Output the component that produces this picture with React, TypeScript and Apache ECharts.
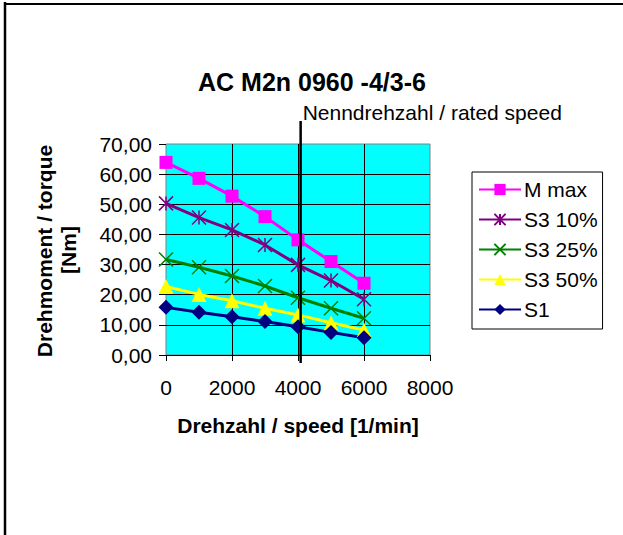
import React, { useEffect, useRef } from "react";
import * as echarts from "echarts";

const speeds = [0, 1000, 2000, 3000, 4000, 5000, 6000];
const mMax = [63.9, 58.6, 52.7, 45.9, 38.2, 31.0, 23.8];
const s3_10 = [50.3, 45.6, 41.5, 36.5, 29.9, 24.7, 18.5];
const s3_25 = [31.7, 29.1, 26.2, 22.9, 19.0, 15.5, 12.2];
const s3_50 = [22.7, 20.1, 18.0, 15.5, 13.3, 10.7, 8.3];
const s1 = [15.8, 14.2, 12.7, 11.1, 9.4, 7.5, 5.7];
const seriesNames = ["M max", "S3 10%", "S3 25%", "S3 50%", "S1"];
const ratedSpeed = 4080;
const titleText = "AC M2n 0960 -4/3-6";
const ratedLabel = "Nenndrehzahl / rated speed";
const xTitle = "Drehzahl / speed [1/min]";
const yTitle1 = "Drehmoment / torque";
const yTitle2 = "[Nm]";

const FONT = "Liberation Sans, Arial, Helvetica, sans-serif";

const ASTERISK = "path://M5,0L5,10M0,0L10,10M10,0L0,10";
const CROSS = "path://M0,0L10,10M10,0L0,10";

export default function App() {
  const ref = useRef<HTMLDivElement>(null);
  useEffect(() => {
    if (!ref.current) return;
    const chart = echarts.init(ref.current, undefined, { renderer: "svg" });
    const pair = (vals: number[]) => speeds.map((s, i) => [s, vals[i]]);
    const mk = (
      name: string,
      vals: number[],
      color: string,
      symbol: string,
      size: number,
      stroke: boolean
    ) => ({
      name,
      type: "line",
      data: pair(vals),
      symbol,
      symbolSize: size,
      showSymbol: true,
      lineStyle: { color, width: 3 },
      itemStyle: stroke
        ? { color, borderColor: color, borderWidth: 1.5 }
        : { color, borderColor: color, borderWidth: 0 },
      emphasis: { disabled: true },
      z: 3,
    });
    const labelStyle = { fontFamily: FONT, fill: "#000" };
    chart.setOption({
      animation: false,
      grid: {
        left: 166,
        top: 144,
        width: 264,
        height: 211,
        show: true,
        backgroundColor: "#00FFFF",
        borderColor: "#808080",
        borderWidth: 1,
      },
      xAxis: {
        type: "value",
        min: 0,
        max: 8000,
        interval: 2000,
        axisLine: { show: true, lineStyle: { color: "#000", width: 1 } },
        axisTick: { show: true, length: 6, lineStyle: { color: "#000" } },
        axisLabel: {
          fontFamily: FONT,
          fontSize: 21,
          color: "#000",
          margin: 22,
          formatter: (v: number) => String(v),
        },
        splitLine: { show: true, showMinLine: false, showMaxLine: false, lineStyle: { color: "#000", width: 1 } },
      },
      yAxis: {
        type: "value",
        min: 0,
        max: 70,
        interval: 10,
        axisLine: { show: false },
        axisTick: { show: true, length: 7, lineStyle: { color: "#000" } },
        axisLabel: {
          fontFamily: FONT,
          fontSize: 21,
          color: "#000",
          margin: 14,
          formatter: (v: number) => v.toFixed(2).replace(".", ","),
        },
        splitLine: { show: true, showMinLine: false, showMaxLine: false, lineStyle: { color: "#000", width: 1 } },
      },
      legend: {
        show: true,
        orient: "vertical",
        left: 472,
        top: 172,
        data: seriesNames,
        itemWidth: 42,
        itemHeight: 14,
        itemGap: 9,
        itemStyle: {},
        padding: [7, 5, 9, 6],
        borderColor: "#000",
        borderWidth: 1,
        backgroundColor: "#fff",
        textStyle: { fontFamily: FONT, fontSize: 21, color: "#000", padding: [0, 0, 0, -2] },
        selectedMode: false,
      },
      series: [
        mk(seriesNames[0], mMax, "#FF00FF", "rect", 13, false),
        mk(seriesNames[1], s3_10, "#800080", ASTERISK, 14, true),
        mk(seriesNames[2], s3_25, "#008000", CROSS, 14, true),
        mk(seriesNames[3], s3_50, "#FFFF00", "triangle", 15, false),
        mk(seriesNames[4], s1, "#000080", "diamond", 15, false),
      ],
    });
    const px = chart.convertToPixel({ xAxisIndex: 0 }, ratedSpeed) as number;
    chart.setOption({
      graphic: [
        { type: "line", shape: { x1: 5, y1: 2, x2: 5, y2: 535 }, style: { stroke: "#000", lineWidth: 2.5 }, z: 10 },
        { type: "line", shape: { x1: 4, y1: 4, x2: 623, y2: 4 }, style: { stroke: "#000", lineWidth: 2 }, z: 10 },
        {
          type: "line",
          shape: { x1: px, y1: 121, x2: px, y2: 363 },
          style: { stroke: "#000", lineWidth: 2.5 },
          z: 20,
        },
        {
          type: "text",
          x: px + 2,
          y: 112,
          style: { ...labelStyle, text: ratedLabel, fontSize: 21, textAlign: "left", textVerticalAlign: "middle" },
          z: 20,
        },
        {
          type: "text",
          x: 312,
          y: 82,
          style: { ...labelStyle, text: titleText, fontSize: 25, fontWeight: "bold", textAlign: "center", textVerticalAlign: "middle" },
        },
        {
          type: "text",
          x: 298,
          y: 425,
          style: { ...labelStyle, text: xTitle, fontSize: 21, fontWeight: "bold", textAlign: "center", textVerticalAlign: "middle" },
        },
        {
          type: "text",
          x: 44,
          y: 251,
          rotation: Math.PI / 2,
          style: { ...labelStyle, text: yTitle1, fontSize: 21, fontWeight: "bold", textAlign: "center", textVerticalAlign: "middle" },
        },
        {
          type: "text",
          x: 68,
          y: 250,
          rotation: Math.PI / 2,
          style: { ...labelStyle, text: yTitle2, fontSize: 21, fontWeight: "bold", textAlign: "center", textVerticalAlign: "middle" },
        },
      ],
    });
    return () => chart.dispose();
  }, []);
  return (
    <div
      ref={ref}
      style={{ position: "fixed", left: 0, top: 0, width: 623, height: 535, background: "#fff" }}
    />
  );
}
